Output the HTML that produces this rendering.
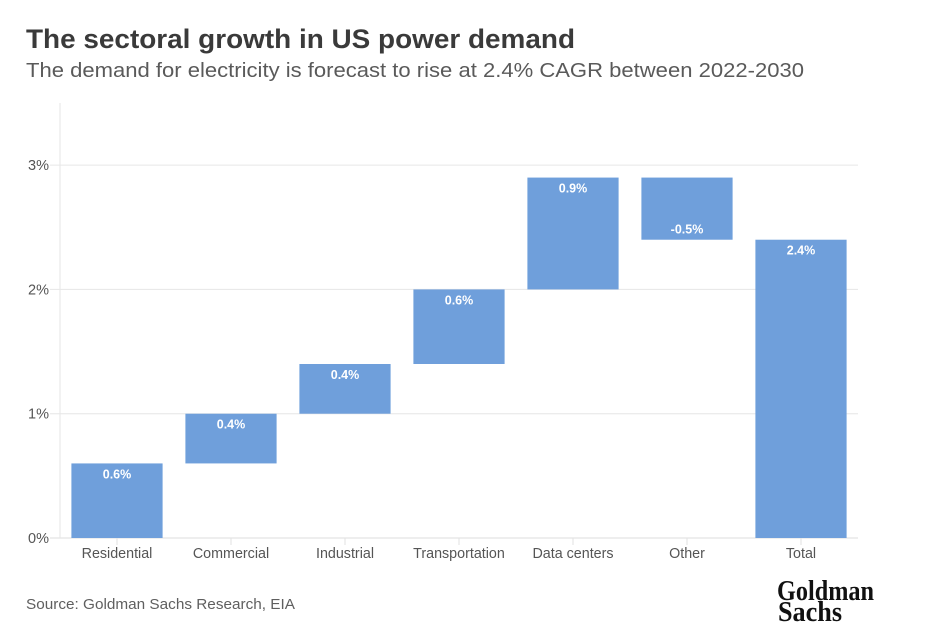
<!DOCTYPE html>
<html lang="en">
<head>
<meta charset="utf-8">
<title>The sectoral growth in US power demand</title>
<style>
  html, body { margin: 0; padding: 0; background: #fff; }
  body { width: 943px; height: 624px; overflow: hidden; }
  svg { display: block; font-family: "Liberation Sans", sans-serif; filter: blur(0.35px); }
</style>
</head>
<body>
<svg id="chart" width="943" height="624" viewBox="0 0 943 624" xmlns="http://www.w3.org/2000/svg">
  <rect x="0" y="0" width="943" height="624" fill="#ffffff"></rect>
  <text x="26" y="48" font-size="26.5" font-weight="700" fill="#3a3a3a" textLength="549" lengthAdjust="spacingAndGlyphs">The sectoral growth in US power demand</text>
  <text x="26" y="77" font-size="20.5" fill="#5a5a5a" textLength="778" lengthAdjust="spacingAndGlyphs">The demand for electricity is forecast to rise at 2.4% CAGR between 2022-2030</text>
  <g id="grid"></g>
  <g id="bars"></g>
  <g id="axes"></g>
  <text x="26" y="609" font-size="14.5" fill="#5f5f5f" textLength="269" lengthAdjust="spacingAndGlyphs">Source: Goldman Sachs Research, EIA</text>
  <g font-family="'Liberation Serif', serif" font-weight="700" fill="#111111">
    <text x="777" y="600" font-size="28" textLength="97" lengthAdjust="spacingAndGlyphs">Goldman</text>
    <text x="778" y="621" font-size="28" textLength="64" lengthAdjust="spacingAndGlyphs">Sachs</text>
  </g>
</svg>
<script>
const categories = ["Residential", "Commercial", "Industrial", "Transportation", "Data centers", "Other", "Total"];
const changes = [0.6, 0.4, 0.4, 0.6, 0.9, -0.5, 2.4];
const totalFlags = [false, false, false, false, false, false, true];
const yTicks = [0, 1, 2, 3];

const SVG_NS = "http://www.w3.org/2000/svg";
const plot = { left: 60, right: 858, top: 103, bottom: 538 };
const yMax = 3.5;
const barFill = 0.8;

function yScale(value) {
  return plot.bottom - (value / yMax) * (plot.bottom - plot.top);
}
function bandWidth() {
  return (plot.right - plot.left) / categories.length;
}
function xCenter(index) {
  return plot.left + bandWidth() * (index + 0.5);
}
function make(tag, attrs, text) {
  const el = document.createElementNS(SVG_NS, tag);
  for (const key in attrs) el.setAttribute(key, attrs[key]);
  if (text !== undefined) el.textContent = text;
  return el;
}
function slug(label) {
  return label.toLowerCase().replace(/[^a-z0-9]+/g, "-");
}

const gridGroup = document.getElementById("grid");
const barsGroup = document.getElementById("bars");
const axesGroup = document.getElementById("axes");

yTicks.forEach(function (tick) {
  const y = yScale(tick);
  const line = make("line", { x1: 50, x2: plot.right, y1: y, y2: y, stroke: tick === 0 ? "#dcdcdc" : "#e6e6e6", "stroke-width": 1 });
  
  
  gridGroup.appendChild(line);
  const label = make("text", { x: 49, y: y + 5, "text-anchor": "end", "font-size": 14.5, fill: "#555555" }, tick + "%");
  
  
  axesGroup.appendChild(label);
});

const yAxisLine = make("line", { x1: plot.left, x2: plot.left, y1: plot.top, y2: plot.bottom, stroke: "#e6e6e6", "stroke-width": 1 });


gridGroup.appendChild(yAxisLine);

let running = 0;
categories.forEach(function (category, i) {
  const change = changes[i];
  const start = totalFlags[i] ? 0 : running;
  const end = start + change;
  running = end;

  const high = Math.max(start, end);
  const low = Math.min(start, end);
  const width = bandWidth() * barFill;
  const cx = xCenter(i);
  const yTop = yScale(high);
  const yBottom = yScale(low);

  const bar = make("rect", { x: cx - width / 2, y: yTop, width: width, height: yBottom - yTop, fill: "#6f9fdb" });
  
  
  barsGroup.appendChild(bar);

  const labelY = change < 0 ? yBottom - 6 : yTop + 15;
  const valueLabel = make("text", { x: cx, y: labelY, "text-anchor": "middle", "font-size": 12.5, "font-weight": 700, fill: "#ffffff" }, change.toFixed(1) + "%");
  
  
  barsGroup.appendChild(valueLabel);

  const tick = make("line", { x1: cx, x2: cx, y1: plot.bottom, y2: plot.bottom + 7, stroke: "#e2e2e2", "stroke-width": 1 });
  
  
  axesGroup.appendChild(tick);

  const catLabel = make("text", { x: cx, y: 558, "text-anchor": "middle", "font-size": 14.3, fill: "#555555" }, category);
  
  
  axesGroup.appendChild(catLabel);
});
</script>
</body>
</html>
